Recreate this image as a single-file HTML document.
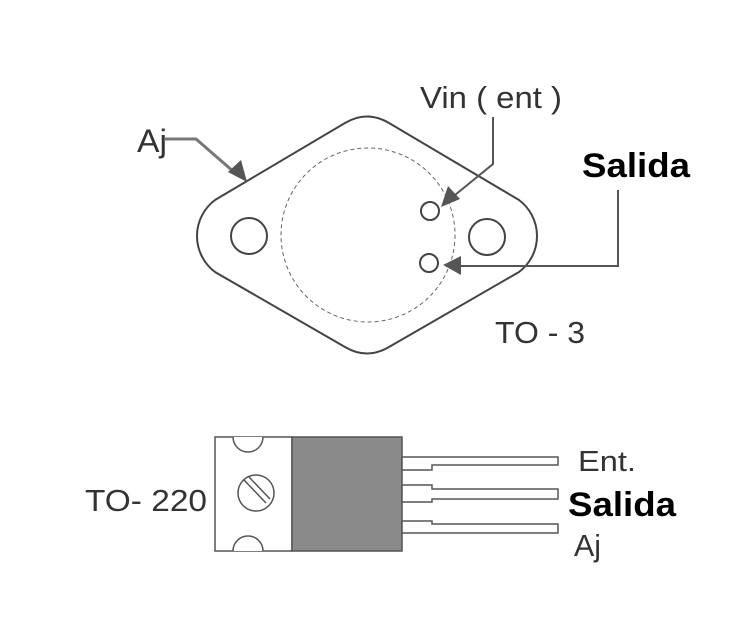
<!DOCTYPE html>
<html><head><style>
html,body{margin:0;padding:0;background:#fff;}
svg{display:block}
text{font-family:"Liberation Sans",sans-serif;}
</style></head><body>
<svg width="735" height="623" viewBox="0 0 735 623" xmlns="http://www.w3.org/2000/svg">
<rect width="735" height="623" fill="#fff"/>
<g fill="none" stroke="#444" stroke-width="2">
<path d="M215,200 L345,123 Q367,110 389,123 L519,200 A45 45 0 0 1 519,272 L389,347 Q367,360 345,347 L215,272 A45 45 0 0 1 215,200 Z"/>
<circle cx="249" cy="236" r="18"/>
<circle cx="487" cy="237" r="18"/>
<circle cx="368" cy="235" r="87" stroke-width="1" stroke-dasharray="4,3" stroke="#666"/>
<circle cx="430" cy="211" r="9"/>
<circle cx="429" cy="263" r="9"/>
<path d="M165,139 L196,139 L234,172" stroke="#777" stroke-width="3"/>
<path d="M493,117 L493,164 L455,195" stroke="#555"/>
<path d="M618,190 L618,266 L458,266" stroke="#555"/>
</g>
<g fill="#555">
<polygon points="247,182 228,172 241,160"/>
<polygon points="441,207 448,186 460,199"/>
<polygon points="443,265 461,256 461,275"/>
</g>
<text x="137" y="152" font-size="32" fill="#333" textLength="30" lengthAdjust="spacingAndGlyphs">Aj</text>
<text x="420" y="108" font-size="31" fill="#333" textLength="142" lengthAdjust="spacingAndGlyphs">Vin ( ent )</text>
<text x="582" y="177" font-size="34" font-weight="bold" fill="#000" textLength="108" lengthAdjust="spacingAndGlyphs">Salida</text>
<text x="495" y="343" font-size="31" fill="#333" textLength="90" lengthAdjust="spacingAndGlyphs">TO - 3</text>
<!-- TO-220 -->
<g stroke="#555" stroke-width="1.5">
<rect x="215" y="437" width="77" height="114" fill="#fff"/>
<rect x="292" y="437" width="110" height="114" fill="#8a8a8a"/>
<path d="M233,437 A15 15 0 0 0 263,437" fill="#fff"/>
<path d="M233,551 A15 15 0 0 1 263,551" fill="#fff"/>
<circle cx="256" cy="493" r="18" fill="#fff"/>
<line x1="244" y1="480" x2="266" y2="503"/>
<line x1="249" y1="477" x2="270" y2="499"/>
<g fill="#fff">
<path d="M402,457 L558,457 L558,465 L432,465 L432,470 L402,470 Z"/>
<path d="M402,485 L432,485 L432,489 L558,489 L558,499 L432,499 L432,502 L402,502 Z"/>
<path d="M402,521 L432,521 L432,524 L558,524 L558,533 L402,533 Z"/>
</g>
</g>
<text x="85" y="511" font-size="31" fill="#333" textLength="122" lengthAdjust="spacingAndGlyphs">TO- 220</text>
<text x="578" y="471" font-size="29" fill="#333" textLength="58" lengthAdjust="spacingAndGlyphs">Ent.</text>
<text x="568" y="516" font-size="34" font-weight="bold" fill="#000" textLength="108" lengthAdjust="spacingAndGlyphs">Salida</text>
<text x="574" y="556" font-size="31" fill="#333" textLength="27" lengthAdjust="spacingAndGlyphs">Aj</text>
</svg>
</body></html>
